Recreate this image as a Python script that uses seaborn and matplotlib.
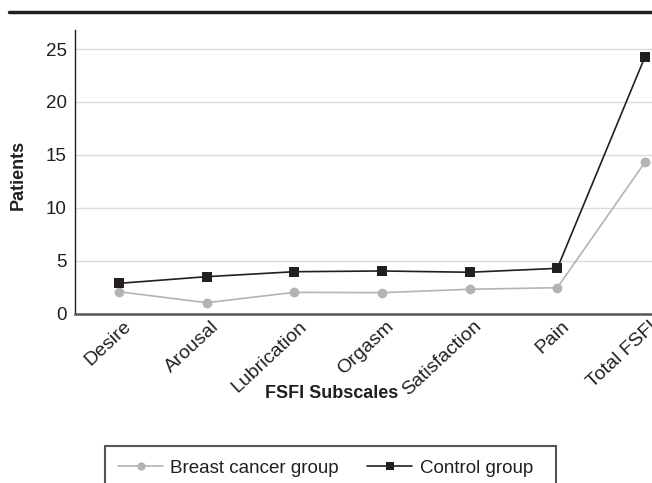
import matplotlib
matplotlib.use("Agg")
import matplotlib.pyplot as plt
from matplotlib.lines import Line2D
from matplotlib.patches import Rectangle
import matplotlib.transforms as mtransforms
import seaborn as sns
import pandas as pd

categories = ["Desire", "Arousal", "Lubrication", "Orgasm", "Satisfaction", "Pain", "Total FSFI"]
breast_cancer = [2.06, 1.02, 2.0, 1.97, 2.29, 2.44, 14.3]
control = [2.85, 3.48, 3.95, 4.02, 3.9, 4.27, 24.27]
yticks = [0, 5, 10, 15, 20, 25]
series_names = ["Breast cancer group", "Control group"]

sns.set_theme(style="white")
plt.rcParams["font.family"] = ["Liberation Sans", "DejaVu Sans"]

rows = []
for name, vals in zip(series_names, [breast_cancer, control]):
    for i, (c, v) in enumerate(zip(categories, vals)):
        rows.append({"pos": i, "cat": c, "value": v, "group": name})
df = pd.DataFrame(rows)

fig = plt.figure(figsize=(6.52, 4.83), dpi=100)
ax = fig.add_axes([75/652, 1 - 313.5/483, 1 - 75/652, (313.5 - 30)/483])

palette = {"Breast cancer group": "#b3b3b3", "Control group": "#231f20"}
markers = {"Breast cancer group": "o", "Control group": "s"}
for name in series_names:
    sub = df[df["group"] == name]
    sns.lineplot(data=sub, x="pos", y="value", ax=ax, color=palette[name],
                 marker=markers[name], markersize=7.5 if name == "Control group" else 7,
                 markeredgewidth=0, linewidth=1.2, legend=False, zorder=3, clip_on=False)

ax.set_xlim(-0.5, 6.08)
ax.set_ylim(0, 26.8)
ax.set_yticks(yticks)
ax.set_yticklabels([str(t) for t in yticks], fontsize=13.5, color="#231f20")
for t in yticks[1:]:
    ax.axhline(t, color="#dcdcdc", lw=1, zorder=1)
ax.set_xticks(range(len(categories)))
ax.set_xticklabels(categories, rotation=43, ha="right", va="top",
                   rotation_mode="anchor", fontsize=14, color="#231f20")
ax.tick_params(axis="both", length=0)
ax.tick_params(axis="y", pad=6)
ax.tick_params(axis="x", pad=3)
offset = mtransforms.ScaledTranslation(4/100, 0, fig.dpi_scale_trans)
for lab in ax.get_xticklabels():
    lab.set_transform(lab.get_transform() + offset)
ax.set_xlabel("")
ax.set_ylabel("")
for s in ["top", "right"]:
    ax.spines[s].set_visible(False)
ax.spines["left"].set_color("#231f20")
ax.spines["left"].set_linewidth(1.0)
ax.spines["bottom"].set_color("#555555")
ax.spines["bottom"].set_linewidth(1.8)

fig.text(18/652, 1 - 175/483, "Patients", rotation=90, ha="center", va="center",
         fontsize=13, fontweight="bold", color="#231f20")
fig.text(332/652, 1 - 393/483, "FSFI Subscales", ha="center", va="center",
         fontsize=13, fontweight="bold", color="#231f20")

fig.add_artist(Line2D([9/652, 1], [1 - 12/483, 1 - 12/483], color="#231f20", lw=2.5,
                      transform=fig.transFigure))

# legend box (extends past the bottom edge as in the reference)
fig.add_artist(Rectangle((105/652, -0.02), (556 - 105)/652, (1 - 446/483) + 0.02,
                         transform=fig.transFigure, fill=False, edgecolor="#555555", lw=1.5))
handles = [Line2D([], [], color=palette[n], marker=markers[n], markersize=6,
                  markeredgewidth=0, lw=1.2) for n in series_names]
leg = fig.legend(handles, series_names, loc="center left",
                 bbox_to_anchor=(118/652, 1 - 468/483), ncol=2, fontsize=13.5,
                 frameon=False, handlelength=2.4, handletextpad=0.4,
                 columnspacing=1.5, borderpad=0, borderaxespad=0)
for t in leg.get_texts():
    t.set_color("#231f20")

fig.savefig("out.png", dpi=100)
